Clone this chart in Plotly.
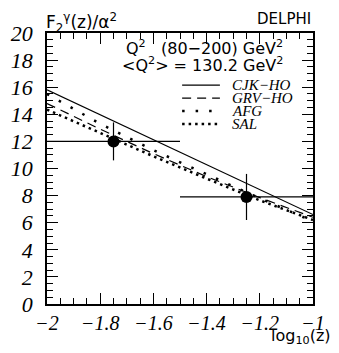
import plotly.graph_objects as go

# theory curves, F2/alpha^2 vs log10(z)
x_curve = [-2.0, -1.8, -1.6, -1.4, -1.2, -1.0]
cjk_ho = [15.8, 13.95, 12.1, 10.3, 8.45, 6.6]
grv_ho = [14.8, 12.9, 11.1, 9.4, 7.85, 6.4]
afg = [15.5, 13.3, 11.35, 9.55, 7.8, 6.1]
sal = [14.35, 12.6, 10.9, 9.25, 7.65, 6.2]

# DELPHI measurement
x_data = [-1.75, -1.25]
x_half = [0.25, 0.25]
f2_data = [12.0, 7.9]
f2_err = [1.4, 1.7]

series = [
    ("CJK−HO", cjk_ho, "solid", 1.2),
    ("GRV−HO", grv_ho, "9px,6px", 1.2),
    ("AFG", afg, "2.5px,11px", 2.5),
    ("SAL", sal, "2.5px,4px", 2.5),
]

SERIF = "Liberation Serif"
SANS = "DejaVu Sans"

fig = go.Figure()

for name, ys, dash, w in series:
    fig.add_trace(go.Scatter(x=x_curve, y=ys, mode="lines", name=name,
                             line=dict(color="black", width=w, dash=dash),
                             showlegend=False))

fig.add_trace(go.Scatter(
    x=x_data, y=f2_data, mode="markers", showlegend=False,
    marker=dict(color="black", size=12),
    error_x=dict(type="data", array=x_half, color="black", thickness=1.2, width=0),
    error_y=dict(type="data", array=f2_err, color="black", thickness=1.2, width=0),
))

# hand made legend in the top right corner
leg_y = [0.808, 0.760, 0.712, 0.664]
for (name, ys, dash, w), yy in zip(series, leg_y):
    fig.add_shape(type="line", xref="paper", yref="paper",
                  x0=0.508, x1=0.650, y0=yy, y1=yy,
                  line=dict(color="black", width=w, dash=dash))
    fig.add_annotation(xref="paper", yref="paper", x=0.688, y=yy, text=name,
                       showarrow=False, xanchor="left", yanchor="middle",
                       font=dict(family=SERIF, size=15, style="italic", color="black"))

fig.add_annotation(xref="paper", yref="paper", x=0.895, y=0.945,
                   text="Q<sup>2</sup>   (80−200) GeV<sup>2</sup>",
                   showarrow=False, xanchor="right", yanchor="middle",
                   font=dict(family=SANS, size=16, color="black"))
fig.add_annotation(xref="paper", yref="paper", x=0.895, y=0.885,
                   text="<Q<sup>2</sup>> = 130.2 GeV<sup>2</sup>",
                   showarrow=False, xanchor="right", yanchor="middle",
                   font=dict(family=SANS, size=16, color="black"))
fig.add_annotation(xref="paper", yref="paper", x=1.0, y=1.092,
                   text="DELPHI", showarrow=False, xanchor="right", yanchor="top",
                   font=dict(family=SANS, size=15, color="black"))
fig.add_annotation(xref="paper", yref="paper", x=-0.01, y=1.092,
                   text="F<sub>2</sub><sup>γ</sup>(z)/α<sup>2</sup>", showarrow=False,
                   xanchor="left", yanchor="top",
                   font=dict(family=SANS, size=17, color="black"))
fig.add_annotation(xref="paper", yref="paper", x=1.075, y=-0.12,
                   text="log<sub>10</sub>(z)", showarrow=False,
                   xanchor="right", yanchor="middle",
                   font=dict(family=SANS, size=16, color="black"))

xtick_font = dict(family=SERIF, size=20, style="italic", color="black")
ytick_font = dict(family=SERIF, size=22, style="italic", color="black")

fig.update_xaxes(range=[-2, -1], dtick=0.2, tick0=-2, ticks="inside", ticklen=11,
                 tickwidth=1, tickcolor="black", mirror="allticks", showline=True,
                 linecolor="black", linewidth=1.5, showgrid=False, zeroline=False,
                 automargin=False, tickfont=xtick_font,
                 minor=dict(dtick=0.05, tick0=-2, ticks="inside", ticklen=6,
                            tickcolor="black", tickwidth=1, showgrid=False))
fig.update_yaxes(range=[0, 20], dtick=2, ticks="inside", ticklen=11,
                 tickwidth=1, tickcolor="black", mirror="allticks", showline=True,
                 linecolor="black", linewidth=1.5, showgrid=False, zeroline=False,
                 automargin=False, ticklabelstandoff=8, tickfont=ytick_font,
                 minor=dict(dtick=0.5, ticks="inside", ticklen=6,
                            tickcolor="black", tickwidth=1, showgrid=False))

# the page body adds 8px on the left and top, so the figure is 8px smaller
fig.update_layout(width=331, height=345, margin=dict(l=39, r=26, t=25, b=49),
                  plot_bgcolor="white", paper_bgcolor="white", showlegend=False)

fig.write_html("out.html")
